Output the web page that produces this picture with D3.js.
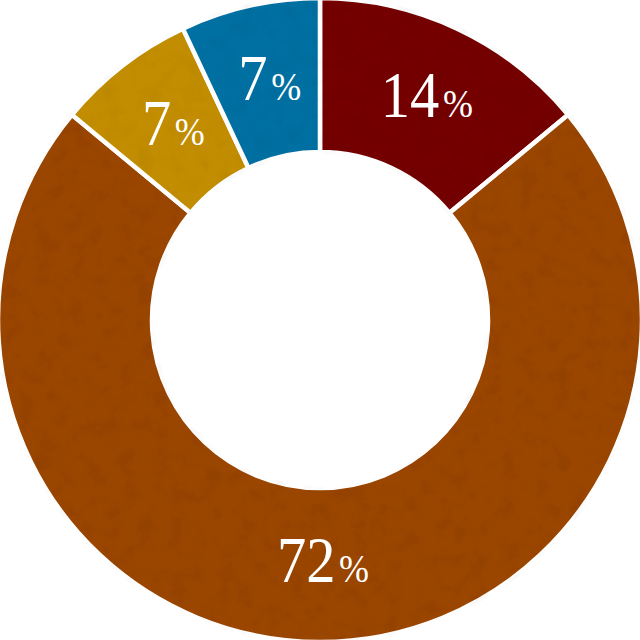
<!DOCTYPE html>
<html><head><meta charset="utf-8">
<script src="https://cdn.jsdelivr.net/npm/d3@7"></script>
<style>html,body{margin:0;padding:0;background:#fff;}svg{display:block;}
.lab{font-family:"Liberation Serif","Times New Roman",Times,serif;}</style>
</head><body>
<svg id="c" width="640" height="640"></svg>
<script>
const categories = ["A", "B", "C", "D"];
const values = [14, 72, 7, 7];
const colors = ["#750000", "#9a4500", "#c28d00", "#0670a2"];

const W = 640, H = 640, cx = 320, cy = 320;
const outerR = 322, innerR = 168;
const svg = d3.select("#c");

const defs = svg.append("defs");
const f = defs.append("filter").attr("id", "tex")
  .attr("filterUnits", "userSpaceOnUse")
  .attr("x", -cx).attr("y", -cy).attr("width", W).attr("height", H);
f.append("feTurbulence").attr("type", "fractalNoise").attr("baseFrequency", 0.06).attr("numOctaves", 3).attr("seed", 4).attr("result", "noise");
f.append("feColorMatrix").attr("in", "noise").attr("type", "matrix")
  .attr("values", "0 0 0 0 0  0 0 0 0 0  0 0 0 0 0  0 0 0 -0.9 0.5").attr("result", "dark");
f.append("feComposite").attr("in", "dark").attr("in2", "SourceGraphic").attr("operator", "in").attr("result", "darkIn");
f.append("feComponentTransfer").attr("in", "darkIn").attr("result", "darkSoft")
  .append("feFuncA").attr("type", "linear").attr("slope", 0.22);
const m = f.append("feMerge");
m.append("feMergeNode").attr("in", "SourceGraphic");
m.append("feMergeNode").attr("in", "darkSoft");

const pie = d3.pie().sort(null).value(d => d)(values);
const arc = d3.arc().innerRadius(innerR).outerRadius(outerR);
const labelArc = d3.arc().innerRadius((innerR + 320) / 2).outerRadius((innerR + 320) / 2);

const g = svg.append("g").attr("transform", `translate(${cx},${cy})`);
g.selectAll("path.slice").data(pie).join("path")
  .attr("class", "slice")
  .attr("d", arc)
  .attr("fill", (d, i) => colors[i])
  .attr("filter", "url(#tex)")
  .attr("stroke", "#fff")
  .attr("stroke-width", 4.5)
  .attr("stroke-linejoin", "miter");

const lab = g.selectAll("text.lab").data(pie).join("text")
  .attr("class", "lab")
  .attr("transform", d => { const c = labelArc.centroid(d); return `translate(${c[0] + 3},${c[1] + 18}) scale(0.9,1)`; })
  .attr("text-anchor", "middle")
  .attr("fill", "#fff");
lab.append("tspan").attr("font-size", 65).text(d => d.data);
lab.append("tspan").attr("font-size", 40).attr("dx", 4).text("%");
</script>
</body></html>
